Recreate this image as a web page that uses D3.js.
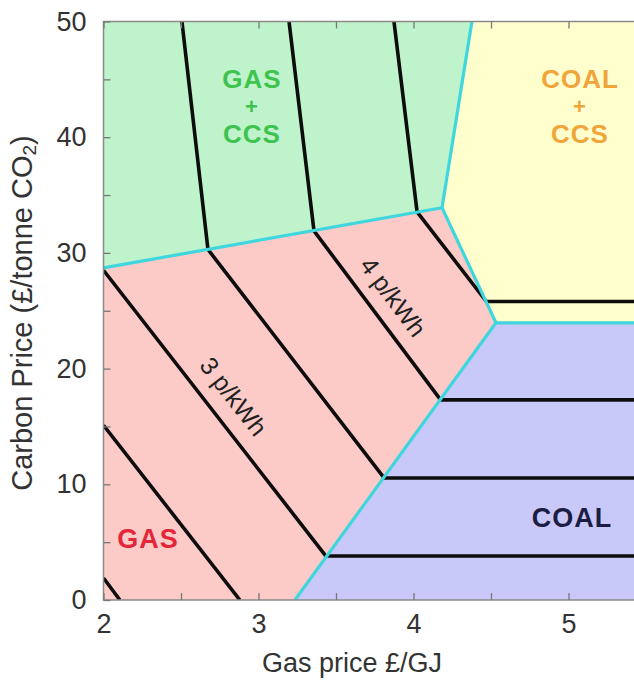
<!DOCTYPE html>
<html>
<head>
<meta charset="utf-8">
<script src="https://cdn.jsdelivr.net/npm/d3@7"></script>
<style>
html,body{margin:0;padding:0;background:#fff;}
svg{display:block;}
text{font-family:"Liberation Sans",Arial,Helvetica,sans-serif;}
</style>
</head>
<body>
<svg id="chart" width="634" height="686"></svg>
<script>
// ---- data (gas price £/GJ, carbon price £/tonne CO2) ----
const xMajorTicks = [2, 3, 4, 5];
const xMinorTicks = [2.5, 3.5, 4.5, 5.5];
const yMajorTicks = [0, 10, 20, 30, 40, 50];
const yMinorTicks = [5, 15, 25, 35, 45];

const regionNames = ["GAS", "GAS + CCS", "COAL + CCS", "COAL"];
const gasRegion     = [[2,0],[3.235,0],[4.532,23.96],[4.184,33.9],[2,28.7]];
const gasCcsRegion  = [[2,28.7],[4.184,33.9],[4.377,50],[2,50]];
const coalCcsRegion = [[4.184,33.9],[4.377,50],[5.6,50],[5.6,23.96],[4.532,23.96]];
const coalRegion    = [[3.235,0],[5.6,0],[5.6,23.96],[4.532,23.96]];

const boundaryGasGasCcs   = [[2,28.7],[4.184,33.9]];
const boundaryGasCcsCoalCcs = [[4.184,33.9],[4.377,50]];
const boundaryGasCoalCcs  = [[4.184,33.9],[4.532,23.96],[5.6,23.96]];
const boundaryGasCoal     = [[4.532,23.96],[3.235,0]];

// iso-cost contours (p/kWh)
const contour1 = [[2,1.9],[2.106,0]];
const contour2 = [[2,15.1],[2.88,0]];
const contour3 = [[2,28.5],[3.435,3.8],[5.6,3.8]];
const contour4 = [[2.506,50],[2.674,30.3],[3.81,10.55],[5.6,10.55]];
const contour5 = [[3.197,50],[3.358,31.9],[4.175,17.3],[5.6,17.3]];
const contour6 = [[3.874,50],[4.023,33.55],[4.47,25.8],[5.6,25.8]];

const contourLabels = ["3 p/kWh", "4 p/kWh"];
const contourLabelPos = [[2.84,17.6],[3.87,26.2]];

// ---- layout ----
const svg = d3.select("#chart");
const x = d3.scaleLinear().domain([2, 5.5]).range([103.5, 646]);
const y = d3.scaleLinear().domain([0, 50]).range([600, 21.5]);

const line = d3.line().x(d => x(d[0])).y(d => y(d[1]));

const regions = [
  {pts: gasRegion, fill: "#fccbc7"},
  {pts: gasCcsRegion, fill: "#bff3cc"},
  {pts: coalCcsRegion, fill: "#ffffcd"},
  {pts: coalRegion, fill: "#c9c9f9"}
];

svg.append("defs").append("clipPath").attr("id","plotclip")
  .append("rect").attr("x", x(2)).attr("y", y(50)).attr("width", x(5.5)-x(2)).attr("height", y(0)-y(50));

const plot = svg.append("g").attr("clip-path","url(#plotclip)");

plot.selectAll("path.region").data(regions).enter().append("path")
  .attr("class","region")
  .attr("d", d => line(d.pts) + "Z")
  .attr("fill", d => d.fill)
  .attr("stroke", d => d.fill).attr("stroke-width", 0.5);

// contours
[contour1, contour2, contour3, contour4, contour5, contour6].forEach(c => {
  plot.append("path").attr("d", line(c))
    .attr("fill","none").attr("stroke","#0d0d0d")
    .attr("stroke-width",3.6).attr("stroke-linejoin","round");
});

// boundaries
[boundaryGasGasCcs, boundaryGasCcsCoalCcs, boundaryGasCoalCcs, boundaryGasCoal].forEach(b => {
  plot.append("path").attr("d", line(b))
    .attr("fill","none").attr("stroke","#3fd6de")
    .attr("stroke-width",3.2).attr("stroke-linejoin","round");
});

// contour labels
const angle3 = Math.atan2(y(contour3[1][1]) - y(contour3[0][1]), x(contour3[1][0]) - x(contour3[0][0])) * 180/Math.PI;
const angle5 = Math.atan2(y(contour5[2][1]) - y(contour5[1][1]), x(contour5[2][0]) - x(contour5[1][0])) * 180/Math.PI;
[[contourLabels[0], contourLabelPos[0], angle3],[contourLabels[1], contourLabelPos[1], angle5]].forEach(([t,p,a]) => {
  svg.append("text")
    .attr("transform", `translate(${x(p[0])},${y(p[1])}) rotate(${a})`)
    .attr("text-anchor","middle").attr("dominant-baseline","central")
    .attr("font-size", 25).attr("fill","#222").text(t);
});

// region labels
function stacked(lines, cx, ys, color, sizes){
  lines.forEach((t,i) => {
    svg.append("text").attr("x", cx).attr("y", ys[i])
      .attr("text-anchor","middle").attr("dominant-baseline","central")
      .attr("font-weight","bold").attr("font-size", sizes[i])
      .attr("letter-spacing", 1)
      .attr("fill", color).text(t);
  });
}
stacked(["GAS","+","CCS"], 252, [79,106,134], "#3ec34f", [26,22,26]);
stacked(["COAL","+","CCS"], 580, [79,106,134], "#f0a53a", [26,22,26]);
stacked(["GAS"], 148, [539], "#e3263a", [27]);
stacked(["COAL"], 572, [518], "#1c1c44", [27]);

// frame
svg.append("rect").attr("x", x(2)).attr("y", y(50)).attr("width", x(5.5)-x(2)).attr("height", y(0)-y(50))
  .attr("fill","none").attr("stroke","#8a8a8a").attr("stroke-width",1.5);

// axes
const axisColor = "#777";
svg.append("g").attr("transform",`translate(0,${y(0)})`)
  .call(d3.axisBottom(x).tickValues(xMajorTicks).tickFormat(d3.format("d")).tickSizeInner(-7).tickSizeOuter(0).tickPadding(14));
svg.append("g").attr("transform",`translate(0,${y(0)})`)
  .call(d3.axisBottom(x).tickValues(xMinorTicks).tickFormat("").tickSizeInner(-7).tickSizeOuter(0));
svg.append("g").attr("transform",`translate(0,${y(50)})`)
  .call(d3.axisTop(x).tickValues(xMajorTicks.concat(xMinorTicks)).tickFormat("").tickSizeInner(-7).tickSizeOuter(0));
svg.append("g").attr("transform",`translate(${x(2)},0)`)
  .call(d3.axisLeft(y).tickValues(yMajorTicks).tickFormat(d3.format("d")).tickSizeInner(-7).tickSizeOuter(0).tickPadding(17));
svg.append("g").attr("transform",`translate(${x(2)},0)`)
  .call(d3.axisLeft(y).tickValues(yMinorTicks).tickFormat("").tickSizeInner(-7).tickSizeOuter(0));

svg.selectAll(".domain").remove();
svg.selectAll(".tick line").attr("stroke", axisColor).attr("stroke-width",1.3);
svg.selectAll(".tick text").attr("font-size", 27).attr("fill","#333")
  .attr("font-family",'"Liberation Sans",Arial,sans-serif');

// axis titles
svg.append("text").attr("x", 352).attr("y", 663)
  .attr("text-anchor","middle").attr("dominant-baseline","central")
  .attr("font-size", 27).attr("fill","#333").text("Gas price £/GJ");
const yt = svg.append("text").attr("transform","translate(22,313) rotate(-90)")
  .attr("text-anchor","middle").attr("dominant-baseline","central")
  .attr("font-size", 29).attr("fill","#333");
yt.append("tspan").text("Carbon Price (£/tonne CO");
yt.append("tspan").attr("font-size",19).attr("dy",7).text("2");
yt.append("tspan").attr("dy",-7).text(")");
</script>
</body>
</html>
